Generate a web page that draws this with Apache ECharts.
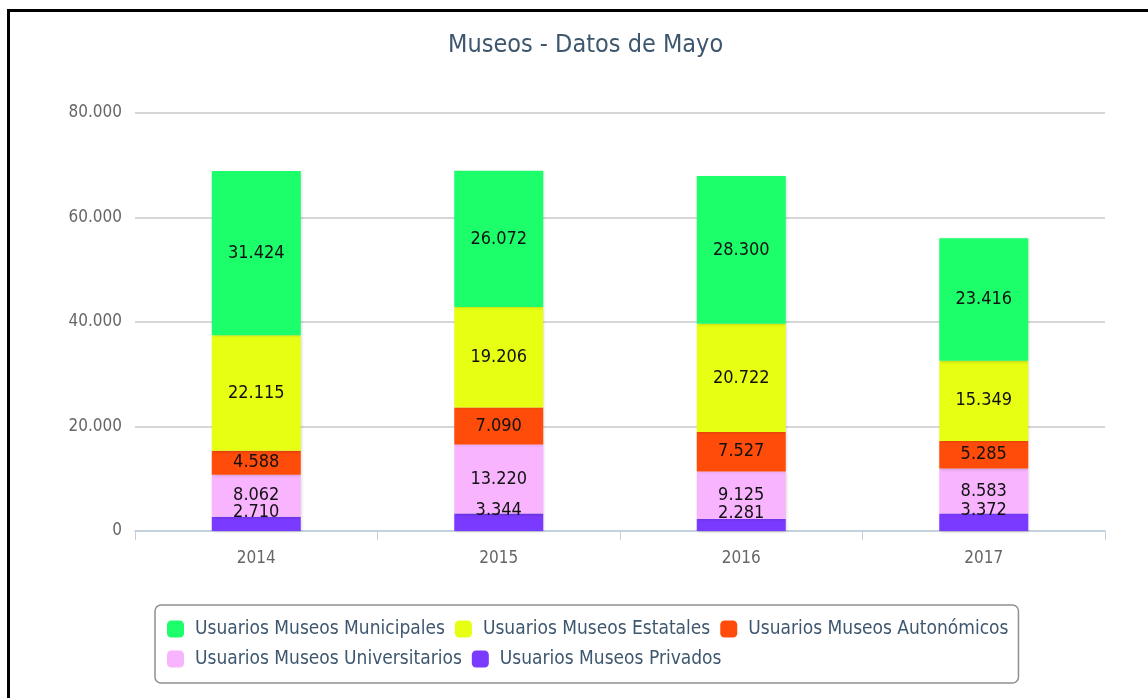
<!DOCTYPE html>
<html>
<head>
<meta charset="utf-8">
<script src="https://cdn.jsdelivr.net/npm/echarts@6/dist/echarts.min.js"></script>
<style>
  html, body { margin: 0; padding: 0; background: #fff; }
  #frame { position: absolute; left: 7px; top: 9px; width: 1200px; height: 760px; border: 3px solid #000; box-sizing: border-box; pointer-events: none; }
  #main { width: 1148px; height: 698px; }
</style>
</head>
<body>
<div id="main"></div>
<div id="frame"></div>
<script>
// datos
const years = ['2014', '2015', '2016', '2017']
const municipales = [31424, 26072, 28300, 23416]
const estatales = [22115, 19206, 20722, 15349]
const autonomicos = [4588, 7090, 7527, 5285]
const universitarios = [8062, 13220, 9125, 8583]
const privados = [2710, 3344, 2281, 3372]

const fontFam = '"Liberation Sans Narrow", "DejaVu Sans Condensed", "Open Sans", sans-serif'
const fmt = v => String(v).replace(/\B(?=(\d{3})+(?!\d))/g, '.')

// orden de apilado: de abajo a arriba
const stackSeries = [
  { name: 'Usuarios Museos Privados', data: privados, color: '#7b3aff', offset: [0, -12] },
  { name: 'Usuarios Museos Universitarios', data: universitarios, color: '#f8b4ff' },
  { name: 'Usuarios Museos Autonómicos', data: autonomicos, color: '#ff4c0a' },
  { name: 'Usuarios Museos Estatales', data: estatales, color: '#e6ff12' },
  { name: 'Usuarios Museos Municipales', data: municipales, color: '#1dfe6b' }
]

const chart = echarts.init(document.getElementById('main'))
chart.setOption({
  animation: false,
  title: {
    text: 'Museos - Datos de Mayo',
    left: 443,
    top: 28,
    textStyle: { fontFamily: fontFam, fontSize: 25, fontWeight: 'normal', color: '#3e576f' }
  },
  legend: {
    data: stackSeries.map(s => s.name).reverse(),
    left: 155,
    top: 605,
    width: 850,
    padding: [14, 10, 14, 12],
    itemGap: 10,
    itemWidth: 17,
    itemHeight: 17,
    icon: 'roundRect',
    borderColor: '#909090',
    borderWidth: 1.5,
    borderRadius: 6,
    textStyle: { fontFamily: fontFam, fontSize: 19, lineHeight: 20, color: '#3e576f', padding: [0, 0, 0, 6] }
  },
  grid: { left: 135, right: 43, top: 113, bottom: 167, containLabel: false },
  xAxis: {
    type: 'category',
    data: years,
    axisLine: { lineStyle: { color: '#c0d0e0', width: 1.5 } },
    axisTick: { show: true, length: 9, lineStyle: { color: '#c0d0e0' } },
    axisLabel: { fontFamily: fontFam, fontSize: 17, color: '#666', margin: 19 }
  },
  yAxis: {
    type: 'value',
    min: 0,
    max: 80000,
    interval: 20000,
    axisLine: { show: false },
    axisTick: { show: false },
    splitLine: { lineStyle: { color: '#c8c8c8', width: 1.5 } },
    axisLabel: { fontFamily: fontFam, fontSize: 17, color: '#666', margin: 13, formatter: fmt }
  },
  series: stackSeries.map(s => ({
    name: s.name,
    type: 'bar',
    stack: 'total',
    barWidth: 89,
    data: s.data,
    itemStyle: {
      color: s.color,
      shadowColor: 'rgba(0,0,0,0.18)',
      shadowBlur: 3,
      shadowOffsetX: 1,
      shadowOffsetY: 1
    },
    label: {
      show: true,
      position: 'inside',
      offset: s.offset || [0, 0],
      fontFamily: fontFam,
      fontSize: 18,
      color: '#111',
      formatter: p => fmt(p.value)
    }
  }))
})
</script>
</body>
</html>
